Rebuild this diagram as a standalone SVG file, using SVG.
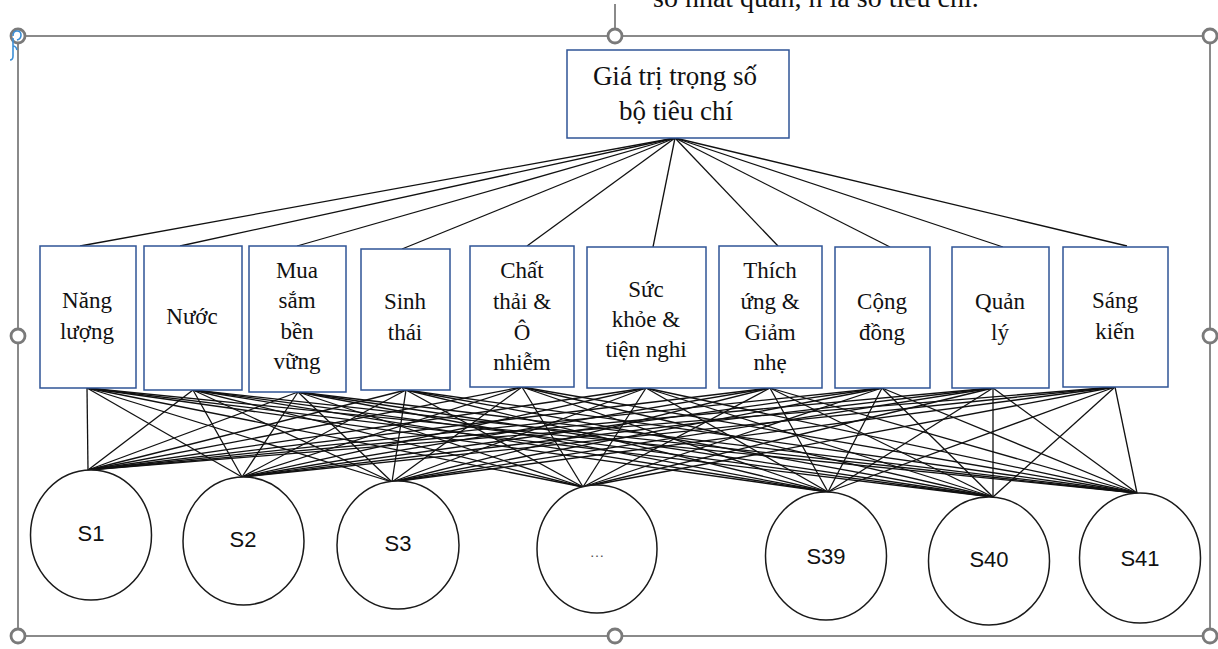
<svg xmlns="http://www.w3.org/2000/svg" width="1218" height="649" viewBox="0 0 1218 649">
<style>
.bg{fill:#ffffff}
.frame{fill:none;stroke:#8a8a8a;stroke-width:2}
.handle{fill:#ffffff;stroke:#7a7a7a;stroke-width:2.8}
.box{fill:#ffffff;stroke:#2f5496;stroke-width:1.5}
.circ{fill:#ffffff;stroke:#1a1a1a;stroke-width:1.5}
.t{font-family:"Liberation Serif","Times New Roman",serif;font-size:23px;fill:#111;text-anchor:middle}
.tt{font-family:"Liberation Serif","Times New Roman",serif;font-size:27px;fill:#111;text-anchor:middle}
.s{font-family:"Liberation Sans",Arial,sans-serif;font-size:22px;fill:#111;text-anchor:middle}
.conn line{stroke:#111;stroke-width:1.3}
</style>
<rect class="bg" x="0" y="0" width="1218" height="649"/>
<text x="653" y="7" style="font-family:'Liberation Serif','Times New Roman',serif;font-size:28px;fill:#111">số nhất quán, n là số tiêu chí.</text>
<g id="selection-frame">
<line x1="615" y1="4" x2="615" y2="30" stroke="#8a8a8a" stroke-width="2"/>
<rect class="frame" x="18" y="36" width="1192" height="600"/>
<circle class="handle" cx="18" cy="36" r="7"/>
<circle class="handle" cx="615" cy="36" r="7"/>
<circle class="handle" cx="1210" cy="36" r="7"/>
<circle class="handle" cx="18" cy="336" r="7"/>
<circle class="handle" cx="1210" cy="336" r="7"/>
<circle class="handle" cx="18" cy="636" r="7"/>
<circle class="handle" cx="615" cy="636" r="7"/>
<circle class="handle" cx="1210" cy="636" r="7"/>
<path d="M13 36 q0 -5 4 -5 q4 0 4 4 q0 4 -4 5 M13 38 v18 q0 4 -3 4 M13 46 q3 0 4 4" fill="none" stroke="#3c8fd6" stroke-width="1.6"/>
</g>
<g id="connectors" class="conn">
<line x1="675" y1="138" x2="80" y2="246"/>
<line x1="675" y1="138" x2="180" y2="246"/>
<line x1="675" y1="138" x2="297" y2="246"/>
<line x1="675" y1="138" x2="402" y2="249"/>
<line x1="675" y1="138" x2="527" y2="246"/>
<line x1="675" y1="138" x2="653" y2="247"/>
<line x1="675" y1="138" x2="778" y2="246"/>
<line x1="675" y1="138" x2="890" y2="247"/>
<line x1="675" y1="138" x2="1003" y2="247"/>
<line x1="675" y1="138" x2="1127" y2="246"/>
<line x1="87" y1="388" x2="88" y2="470"/>
<line x1="87" y1="388" x2="242" y2="477"/>
<line x1="87" y1="388" x2="392" y2="482"/>
<line x1="87" y1="388" x2="583" y2="487"/>
<line x1="87" y1="388" x2="828" y2="492"/>
<line x1="87" y1="388" x2="993" y2="497"/>
<line x1="87" y1="388" x2="1137" y2="493"/>
<line x1="193" y1="390" x2="88" y2="470"/>
<line x1="193" y1="390" x2="242" y2="477"/>
<line x1="193" y1="390" x2="392" y2="482"/>
<line x1="193" y1="390" x2="583" y2="487"/>
<line x1="193" y1="390" x2="828" y2="492"/>
<line x1="193" y1="390" x2="993" y2="497"/>
<line x1="193" y1="390" x2="1137" y2="493"/>
<line x1="298" y1="392" x2="88" y2="470"/>
<line x1="298" y1="392" x2="242" y2="477"/>
<line x1="298" y1="392" x2="392" y2="482"/>
<line x1="298" y1="392" x2="583" y2="487"/>
<line x1="298" y1="392" x2="828" y2="492"/>
<line x1="298" y1="392" x2="993" y2="497"/>
<line x1="298" y1="392" x2="1137" y2="493"/>
<line x1="406" y1="390" x2="88" y2="470"/>
<line x1="406" y1="390" x2="242" y2="477"/>
<line x1="406" y1="390" x2="392" y2="482"/>
<line x1="406" y1="390" x2="583" y2="487"/>
<line x1="406" y1="390" x2="828" y2="492"/>
<line x1="406" y1="390" x2="993" y2="497"/>
<line x1="406" y1="390" x2="1137" y2="493"/>
<line x1="522" y1="387" x2="88" y2="470"/>
<line x1="522" y1="387" x2="242" y2="477"/>
<line x1="522" y1="387" x2="392" y2="482"/>
<line x1="522" y1="387" x2="583" y2="487"/>
<line x1="522" y1="387" x2="828" y2="492"/>
<line x1="522" y1="387" x2="993" y2="497"/>
<line x1="522" y1="387" x2="1137" y2="493"/>
<line x1="646" y1="388" x2="88" y2="470"/>
<line x1="646" y1="388" x2="242" y2="477"/>
<line x1="646" y1="388" x2="392" y2="482"/>
<line x1="646" y1="388" x2="583" y2="487"/>
<line x1="646" y1="388" x2="828" y2="492"/>
<line x1="646" y1="388" x2="993" y2="497"/>
<line x1="646" y1="388" x2="1137" y2="493"/>
<line x1="770" y1="388" x2="88" y2="470"/>
<line x1="770" y1="388" x2="242" y2="477"/>
<line x1="770" y1="388" x2="392" y2="482"/>
<line x1="770" y1="388" x2="583" y2="487"/>
<line x1="770" y1="388" x2="828" y2="492"/>
<line x1="770" y1="388" x2="993" y2="497"/>
<line x1="770" y1="388" x2="1137" y2="493"/>
<line x1="882" y1="388" x2="88" y2="470"/>
<line x1="882" y1="388" x2="242" y2="477"/>
<line x1="882" y1="388" x2="392" y2="482"/>
<line x1="882" y1="388" x2="583" y2="487"/>
<line x1="882" y1="388" x2="828" y2="492"/>
<line x1="882" y1="388" x2="993" y2="497"/>
<line x1="882" y1="388" x2="1137" y2="493"/>
<line x1="993" y1="388" x2="88" y2="470"/>
<line x1="993" y1="388" x2="242" y2="477"/>
<line x1="993" y1="388" x2="392" y2="482"/>
<line x1="993" y1="388" x2="583" y2="487"/>
<line x1="993" y1="388" x2="828" y2="492"/>
<line x1="993" y1="388" x2="993" y2="497"/>
<line x1="993" y1="388" x2="1137" y2="493"/>
<line x1="1115" y1="387" x2="88" y2="470"/>
<line x1="1115" y1="387" x2="242" y2="477"/>
<line x1="1115" y1="387" x2="392" y2="482"/>
<line x1="1115" y1="387" x2="583" y2="487"/>
<line x1="1115" y1="387" x2="828" y2="492"/>
<line x1="1115" y1="387" x2="993" y2="497"/>
<line x1="1115" y1="387" x2="1137" y2="493"/>
</g>
<g id="root">
<rect class="box" x="567" y="50" width="222" height="88"/>
<text class="tt" x="675" y="85">Giá trị trọng số</text>
<text class="tt" x="676" y="120">bộ tiêu chí</text>
</g>
<g id="c-nang-luong">
<rect class="box" x="40" y="246" width="96" height="142"/>
<text class="t" x="87" y="308">Năng</text>
<text class="t" x="87" y="339">lượng</text>
</g>
<g id="c-nuoc">
<rect class="box" x="144" y="246" width="98" height="144"/>
<text class="t" x="192" y="324">Nước</text>
</g>
<g id="c-mua-sam">
<rect class="box" x="249" y="246" width="97" height="146"/>
<text class="t" x="297" y="278">Mua</text>
<text class="t" x="297" y="308">sắm</text>
<text class="t" x="297" y="339">bền</text>
<text class="t" x="297" y="369">vững</text>
</g>
<g id="c-sinh-thai">
<rect class="box" x="361" y="249" width="89" height="141"/>
<text class="t" x="405" y="309">Sinh</text>
<text class="t" x="405" y="340">thái</text>
</g>
<g id="c-chat-thai">
<rect class="box" x="470" y="246" width="104" height="141"/>
<text class="t" x="522" y="278">Chất</text>
<text class="t" x="522" y="309">thải &amp;</text>
<text class="t" x="522" y="340">Ô</text>
<text class="t" x="522" y="370">nhiễm</text>
</g>
<g id="c-suc-khoe">
<rect class="box" x="587" y="247" width="119" height="141"/>
<text class="t" x="646" y="297">Sức</text>
<text class="t" x="646" y="327">khỏe &amp;</text>
<text class="t" x="646" y="357">tiện nghi</text>
</g>
<g id="c-thich-ung">
<rect class="box" x="719" y="246" width="103" height="142"/>
<text class="t" x="770" y="278">Thích</text>
<text class="t" x="770" y="309">ứng &amp;</text>
<text class="t" x="770" y="340">Giảm</text>
<text class="t" x="770" y="370">nhẹ</text>
</g>
<g id="c-cong-dong">
<rect class="box" x="835" y="247" width="95" height="141"/>
<text class="t" x="882" y="309">Cộng</text>
<text class="t" x="882" y="340">đồng</text>
</g>
<g id="c-quan-ly">
<rect class="box" x="952" y="247" width="97" height="141"/>
<text class="t" x="1000" y="309">Quản</text>
<text class="t" x="1000" y="340">lý</text>
</g>
<g id="c-sang-kien">
<rect class="box" x="1063" y="247" width="105" height="140"/>
<text class="t" x="1115" y="308">Sáng</text>
<text class="t" x="1115" y="339">kiến</text>
</g>
<g id="s1">
<ellipse class="circ" cx="91" cy="535" rx="60.5" ry="65"/>
<text class="s" x="91" y="541">S1</text>
</g>
<g id="s2">
<ellipse class="circ" cx="243.5" cy="541" rx="60.5" ry="64"/>
<text class="s" x="243" y="547">S2</text>
</g>
<g id="s3">
<ellipse class="circ" cx="398" cy="545" rx="61" ry="64"/>
<text class="s" x="398" y="551">S3</text>
</g>
<g id="s-more">
<ellipse class="circ" cx="597" cy="549" rx="60" ry="64"/>
<text x="597" y="557" style="font-family:'Liberation Sans',Arial,sans-serif;font-size:15px;fill:#555;text-anchor:middle">…</text>
</g>
<g id="s39">
<ellipse class="circ" cx="826" cy="556" rx="60.5" ry="64"/>
<text class="s" x="826" y="564">S39</text>
</g>
<g id="s40">
<ellipse class="circ" cx="989" cy="561" rx="60.5" ry="64"/>
<text class="s" x="989" y="567">S40</text>
</g>
<g id="s41">
<ellipse class="circ" cx="1140" cy="558" rx="60.5" ry="65"/>
<text class="s" x="1140" y="566">S41</text>
</g>
</svg>
